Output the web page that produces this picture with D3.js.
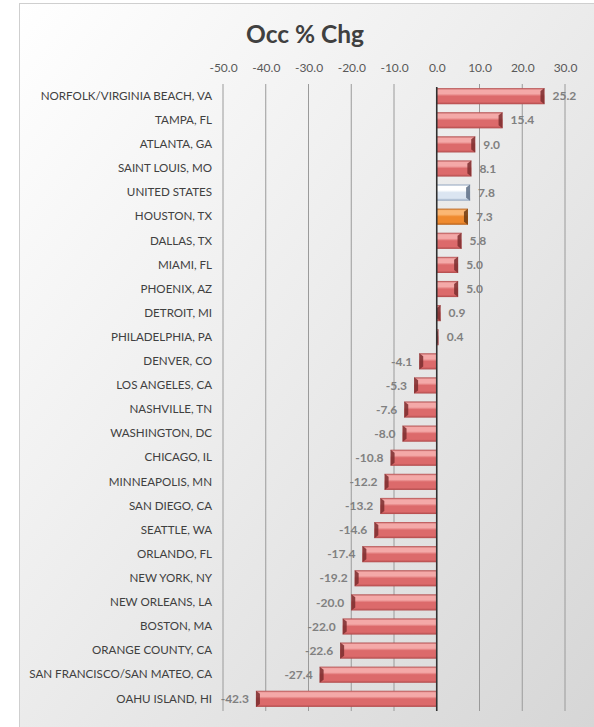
<!DOCTYPE html>
<html><head><meta charset="utf-8">
<script src="https://cdn.jsdelivr.net/npm/d3@7"></script>
<style>body{margin:0;background:#fff;}svg{display:block;}</style>
</head><body>
<script>
const categories = ["NORFOLK/VIRGINIA BEACH, VA","TAMPA, FL","ATLANTA, GA","SAINT LOUIS, MO","UNITED STATES","HOUSTON, TX","DALLAS, TX","MIAMI, FL","PHOENIX, AZ","DETROIT, MI","PHILADELPHIA, PA","DENVER, CO","LOS ANGELES, CA","NASHVILLE, TN","WASHINGTON, DC","CHICAGO, IL","MINNEAPOLIS, MN","SAN DIEGO, CA","SEATTLE, WA","ORLANDO, FL","NEW YORK, NY","NEW ORLEANS, LA","BOSTON, MA","ORANGE COUNTY, CA","SAN FRANCISCO/SAN MATEO, CA","OAHU ISLAND, HI"];
const values = [25.2,15.4,9.0,8.1,7.8,7.3,5.8,5.0,5.0,0.9,0.4,-4.1,-5.3,-7.6,-8.0,-10.8,-12.2,-13.2,-14.6,-17.4,-19.2,-20.0,-22.0,-22.6,-27.4,-42.3];
const tickValues = [-50,-40,-30,-20,-10,0,10,20,30];
const title = "Occ % Chg";

const fmt = d3.formatLocale({decimal:".", thousands:",", grouping:[3], currency:["",""], minus:"-"}).format(".1f");

const W = 594, H = 727;
const svg = d3.select("body").append("svg").attr("width", W).attr("height", H);
const defs = svg.append("defs");

const bg = defs.append("linearGradient").attr("id","bg").attr("x1","0").attr("y1","0").attr("x2","1").attr("y2","1");
bg.append("stop").attr("offset","0").attr("stop-color","#ffffff");
bg.append("stop").attr("offset","0.45").attr("stop-color","#ededed");
bg.append("stop").attr("offset","1").attr("stop-color","#d6d6d6");

function barGrad(id, edge, hi, mid) {
  const g = defs.append("linearGradient").attr("id", id).attr("x1","0").attr("y1","0").attr("x2","0").attr("y2","1");
  [[0,edge],[0.12,hi],[0.35,hi],[0.5,mid],[0.85,mid],[1,edge]].forEach(([o,c]) =>
    g.append("stop").attr("offset", o).attr("stop-color", c));
}
barGrad("gRed", "#b04a4b", "#f4a9a8", "#dc6a6b");
barGrad("gBlue", "#8ea2bd", "#ffffff", "#dbe5f1");
barGrad("gOrange", "#b65f18", "#fbb774", "#ef8a2f");

const styles = {
  "UNITED STATES": {fill:"url(#gBlue)", cap:"#5d6f86"},
  "HOUSTON, TX": {fill:"url(#gOrange)", cap:"#6e3a10"}
};
const defStyle = {fill:"url(#gRed)", cap:"#7b2d2e"};

svg.append("rect").attr("x",19.5).attr("y",3.5).attr("width",W-19).attr("height",H-3)
  .attr("fill","url(#bg)").attr("stroke","#cfcfcf");

const x = d3.scaleLinear().domain([-50,30]).range([223,565]);
const y = d3.scaleBand().domain(categories).range([84,711]).paddingInner(0.33).paddingOuter(0.17);

const FONT = "Lato, 'Open Sans', sans-serif";

svg.append("text").attr("x",305).attr("y",43).attr("text-anchor","middle")
  .attr("font-family",FONT).attr("font-weight","bold")
  .attr("font-size",24.5).attr("fill","#404040").text(title);

const grid = svg.append("g");
grid.selectAll("line").data(tickValues.filter(v => v !== 0)).join("line")
  .attr("x1", d => x(d)).attr("x2", d => x(d)).attr("y1", 84).attr("y2", 711)
  .attr("stroke","#9a9a9a").attr("stroke-width",1);

const xAxis = d3.axisTop(x).tickValues(tickValues).tickFormat(fmt).tickSize(0).tickPadding(0);
const ax = svg.append("g").attr("transform","translate(0,72)").call(xAxis);
ax.select(".domain").remove();
ax.selectAll("text").attr("font-family",FONT).attr("font-size",12).attr("fill","#595959");

const yAxis = d3.axisLeft(y).tickSize(0).tickPadding(0);
const ay = svg.append("g").attr("transform","translate(212,0)").call(yAxis);
ay.select(".domain").remove();
ay.selectAll("text").attr("font-family",FONT).attr("font-size",11.6).attr("fill","#404040");

const data = categories.map((c,i) => ({c, v: values[i]}));
const bars = svg.append("g").selectAll("g").data(data).join("g");
bars.append("rect")
  .attr("x", d => Math.min(x(0), x(d.v))).attr("y", d => y(d.c))
  .attr("width", d => Math.abs(x(d.v) - x(0))).attr("height", y.bandwidth())
  .attr("fill", d => (styles[d.c] || defStyle).fill);
bars.append("path").attr("d", d => {
  const bh = y.bandwidth(), y0 = y(d.c), xe = x(d.v), w = Math.abs(xe - x(0));
  const cw = Math.min(4, w), s = d.v >= 0 ? -1 : 1;
  return `M${xe},${y0}L${xe+s*cw},${y0+3}L${xe+s*cw},${y0+bh-3}L${xe},${y0+bh}Z`;
}).attr("fill", d => (styles[d.c] || defStyle).cap).attr("opacity",0.85);

svg.append("line").attr("x1",x(0)).attr("x2",x(0)).attr("y1",87).attr("y2",711)
  .attr("stroke","#303030").attr("stroke-width",1.6);

bars.append("text")
  .attr("x", d => d.v >= 0 ? Math.max(x(d.v), x(0)+2) + 8 : x(d.v) - 7)
  .attr("y", d => y(d.c) + y.bandwidth()/2).attr("dy","0.35em")
  .attr("text-anchor", d => d.v >= 0 ? "start" : "end")
  .attr("font-family",FONT).attr("font-weight","bold").attr("font-size",12)
  .attr("fill","#808080").text(d => fmt(d.v));
</script>
</body></html>
